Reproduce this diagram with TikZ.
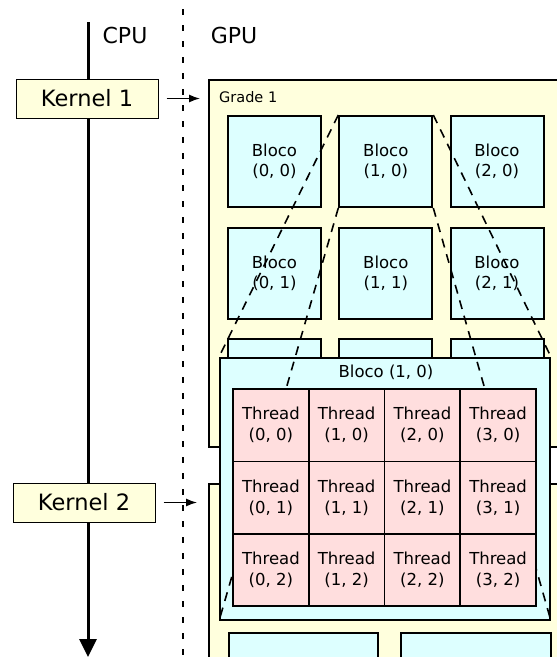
\documentclass[tikz,border=0pt]{standalone}
\usepackage{fontspec}
\setmainfont{DejaVu Sans}
\usetikzlibrary{arrows.meta}
\definecolor{kyellow}{RGB}{255,255,221}
\definecolor{bcyan}{RGB}{221,255,255}
\definecolor{tpink}{RGB}{255,222,222}
\begin{document}
\begin{tikzpicture}[x=1pt,y=-1pt,
  kernelbox/.style={draw, line width=1pt, fill=kyellow, minimum width=142pt, minimum height=39pt, inner sep=0pt, font=\fontsize{22.5}{26}\selectfont},
  gridbox/.style={draw, line width=2pt, fill=kyellow, inner sep=0pt},
  blockbox/.style={draw, line width=2pt, fill=bcyan, minimum width=93pt, minimum height=91pt, inner sep=0pt, align=center, font=\fontsize{16.5}{20}\selectfont},
  threadcell/.style={draw, line width=1.7pt, fill=tpink, minimum width=75.75pt, minimum height=72.3pt, inner sep=0pt, align=center, font=\fontsize{16.5}{21}\selectfont},
  proj/.style={line width=1.6pt, dash pattern=on 9pt off 7pt},
  sep/.style={line width=1.6pt, dash pattern=on 6pt off 10pt},
  callarrow/.style={line width=1.3pt, -{Latex[length=11pt,width=8pt]}},
  cpuline/.style={line width=3pt, -{Triangle[length=18pt,width=17pt]}},
  title/.style={font=\fontsize{22}{26}\selectfont, inner sep=0pt}
]
\useasboundingbox (0,0) rectangle (557,657);
\clip (0,0) rectangle (557,657);

% CPU / GPU separator
\coordinate (septop) at (183,9);
\coordinate (sepbot) at (183,680);
\draw[sep] (septop) -- (sepbot);
\node[title] (cpu) at (125,35) {CPU};
\node[title] (gpu) at (234,35) {GPU};

% CPU time line
\coordinate (cputop) at (88,22);
\coordinate (cpubot) at (88,657);
\draw[cpuline] (cputop) -- (cpubot);

% Grid 1
\node[gridbox, minimum width=371pt, minimum height=367pt] (grid1) at (394.5,263.5) {};
\node[anchor=west, inner sep=0pt, font=\fontsize{14.5}{16}\selectfont] (g1label) at (219,97) {Grade 1};
\node[blockbox] (b00) at (274.5,161.5) {Bloco\\(0, 0)};
\node[blockbox] (b10) at (385.8,161.5) {Bloco\\(1, 0)};
\node[blockbox] (b20) at (497,161.5) {Bloco\\(2, 0)};
\node[blockbox] (b01) at (274.5,273) {Bloco\\(0, 1)};
\node[blockbox] (b11) at (385.8,273) {Bloco\\(1, 1)};
\node[blockbox] (b21) at (497,273) {Bloco\\(2, 1)};
\node[blockbox] (b02) at (274.5,384.5) {};
\node[blockbox] (b12) at (385.8,384.5) {};
\node[blockbox] (b22) at (497,384.5) {};

% Grid 2
\node[gridbox, minimum width=371pt, minimum height=236pt] (grid2) at (394.5,602) {};
\node[blockbox, minimum width=149pt, minimum height=80pt] (c00) at (303.5,673) {};
\node[blockbox, minimum width=150pt, minimum height=80pt] (c10) at (476,673) {};

% Kernels
\node[kernelbox] (k1) at (87,98.5) {Kernel 1};
\node[kernelbox] (k2) at (84,502.5) {Kernel 2};
\draw[callarrow, shorten <=8pt, shorten >=8pt] (k1.east) -- (k1.east -| grid1.west);
\draw[callarrow, shorten <=8pt, shorten >=11pt] (k2.east) -- (k2.east -| grid2.west);

% Zoomed block (1,0)
\node[draw, line width=2pt, fill=bcyan, minimum width=330pt, minimum height=262pt, inner sep=0pt] (big) at (385,489) {};
\node[inner sep=0pt, font=\fontsize{16.5}{20}\selectfont] (bigtitle) at (386,372) {Bloco (1, 0)};

\draw[proj] (b10.north west) -- (big.north west);
\draw[proj] (b10.north east) -- (big.north east);
\draw[proj] (b10.south west) -- (big.south west);
\draw[proj] (b10.south east) -- (big.south east);

% Threads
\node[threadcell] (t00) at (270.9,425.2) {Thread\\(0, 0)};
\node[threadcell] (t10) at (346.6,425.2) {Thread\\(1, 0)};
\node[threadcell] (t20) at (422.4,425.2) {Thread\\(2, 0)};
\node[threadcell] (t30) at (498.1,425.2) {Thread\\(3, 0)};
\node[threadcell] (t01) at (270.9,497.5) {Thread\\(0, 1)};
\node[threadcell] (t11) at (346.6,497.5) {Thread\\(1, 1)};
\node[threadcell] (t21) at (422.4,497.5) {Thread\\(2, 1)};
\node[threadcell] (t31) at (498.1,497.5) {Thread\\(3, 1)};
\node[threadcell] (t02) at (270.9,569.8) {Thread\\(0, 2)};
\node[threadcell] (t12) at (346.6,569.8) {Thread\\(1, 2)};
\node[threadcell] (t22) at (422.4,569.8) {Thread\\(2, 2)};
\node[threadcell] (t32) at (498.1,569.8) {Thread\\(3, 2)};
\end{tikzpicture}
\end{document}
